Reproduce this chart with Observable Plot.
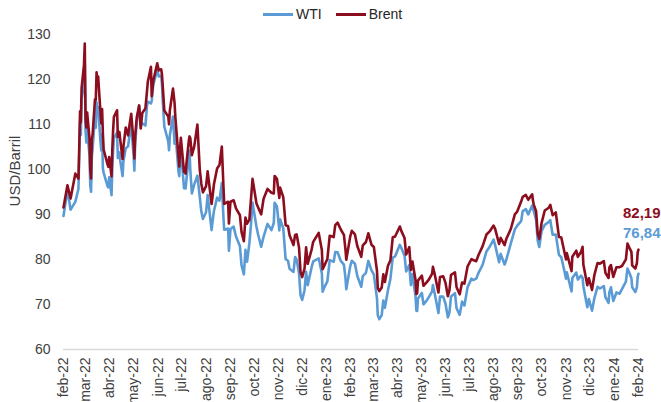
<!DOCTYPE html>
<html><head><meta charset="utf-8">
<script src="https://cdn.jsdelivr.net/npm/d3@7"></script>
<script src="https://cdn.jsdelivr.net/npm/@observablehq/plot@0.6"></script>
<style>
body{margin:0;background:#fff;font-family:"Liberation Sans",Arial,sans-serif;}
#wrap{position:relative;width:661px;height:402px;overflow:hidden;}
#legend{position:absolute;top:6px;left:263px;display:flex;align-items:center;font-size:14px;color:#262626;line-height:16px;}
#legend .sw{display:inline-block;height:3px;}
#ylab{position:absolute;left:14px;top:171px;transform:translate(-50%,-50%) rotate(-90deg);font-size:15px;color:#404040;white-space:nowrap;}
</style></head>
<body><div id="wrap"></div>
<script>
const dates = [
"2022-02-09","2022-02-14","2022-02-18","2022-02-24","2022-02-28",
"2022-03-01","2022-03-02","2022-03-03","2022-03-04","2022-03-07","2022-03-08","2022-03-09","2022-03-10","2022-03-11","2022-03-14","2022-03-15","2022-03-16","2022-03-17","2022-03-18","2022-03-21","2022-03-22","2022-03-23","2022-03-24","2022-03-25","2022-03-28","2022-03-29","2022-03-30","2022-03-31",
"2022-04-01","2022-04-06","2022-04-07","2022-04-08","2022-04-11","2022-04-12","2022-04-13","2022-04-14","2022-04-18","2022-04-19","2022-04-21","2022-04-22","2022-04-25","2022-04-26","2022-04-29",
"2022-05-02","2022-05-04","2022-05-06","2022-05-09","2022-05-10","2022-05-11","2022-05-13","2022-05-16","2022-05-17","2022-05-18","2022-05-20","2022-05-24","2022-05-26","2022-05-27","2022-05-31",
"2022-06-01","2022-06-03","2022-06-08","2022-06-10","2022-06-13","2022-06-14","2022-06-15","2022-06-17","2022-06-22","2022-06-23","2022-06-24","2022-06-28","2022-06-30",
"2022-07-01","2022-07-05","2022-07-06","2022-07-07","2022-07-08","2022-07-12","2022-07-13","2022-07-14","2022-07-15","2022-07-18","2022-07-19","2022-07-20","2022-07-22","2022-07-25","2022-07-29",
"2022-08-01","2022-08-03","2022-08-05","2022-08-09","2022-08-11","2022-08-16","2022-08-17","2022-08-19","2022-08-23","2022-08-26","2022-08-29","2022-08-31",
"2022-09-01","2022-09-06","2022-09-07","2022-09-09","2022-09-13","2022-09-16","2022-09-21","2022-09-23","2022-09-26","2022-09-28","2022-09-30",
"2022-10-03","2022-10-05","2022-10-07","2022-10-12","2022-10-14","2022-10-18","2022-10-21","2022-10-26","2022-10-31",
"2022-11-03","2022-11-04","2022-11-07","2022-11-10","2022-11-11","2022-11-15","2022-11-18","2022-11-21","2022-11-23","2022-11-28","2022-11-30",
"2022-12-02","2022-12-05","2022-12-07","2022-12-09","2022-12-12","2022-12-14","2022-12-16","2022-12-21","2022-12-23","2022-12-30",
"2023-01-03","2023-01-04","2023-01-06","2023-01-10","2023-01-13","2023-01-18","2023-01-20","2023-01-23","2023-01-27","2023-01-31",
"2023-02-02","2023-02-03","2023-02-08","2023-02-10","2023-02-14","2023-02-17","2023-02-22","2023-02-24","2023-02-28",
"2023-03-03","2023-03-07","2023-03-10","2023-03-14","2023-03-15","2023-03-17","2023-03-20","2023-03-22","2023-03-24","2023-03-28","2023-03-31",
"2023-04-03","2023-04-06","2023-04-12","2023-04-14","2023-04-18","2023-04-20","2023-04-24","2023-04-26","2023-04-28",
"2023-05-02","2023-05-03","2023-05-04","2023-05-05","2023-05-10","2023-05-12","2023-05-16","2023-05-19","2023-05-23","2023-05-24","2023-05-26","2023-05-31",
"2023-06-02","2023-06-06","2023-06-09","2023-06-12","2023-06-14","2023-06-16","2023-06-21","2023-06-23","2023-06-27","2023-06-30",
"2023-07-03","2023-07-07","2023-07-12","2023-07-14","2023-07-18","2023-07-21","2023-07-26","2023-07-31",
"2023-08-04","2023-08-09","2023-08-11","2023-08-16","2023-08-18","2023-08-23","2023-08-25","2023-08-31",
"2023-09-05","2023-09-08","2023-09-13","2023-09-15","2023-09-19","2023-09-22","2023-09-27","2023-09-28","2023-09-29",
"2023-10-02","2023-10-04","2023-10-06","2023-10-09","2023-10-13","2023-10-18","2023-10-20","2023-10-23","2023-10-27","2023-10-31",
"2023-11-03","2023-11-07","2023-11-09","2023-11-10","2023-11-16","2023-11-17","2023-11-22","2023-11-24","2023-11-28","2023-11-30",
"2023-12-01","2023-12-06","2023-12-08","2023-12-12","2023-12-15","2023-12-19","2023-12-22","2023-12-27","2023-12-29",
"2024-01-02","2024-01-03","2024-01-05","2024-01-08","2024-01-12","2024-01-16","2024-01-19","2024-01-24","2024-01-26","2024-01-29","2024-01-31",
"2024-02-01","2024-02-05","2024-02-06","2024-02-07","2024-02-08","2024-02-09"
];
const brent = [
91.55,96.48,93.54,99.08,97.97,
104.97,112.93,110.46,118.11,123.21,127.98,111.14,109.33,112.67,106.90,99.91,98.02,106.64,107.93,115.62,115.48,121.60,119.03,120.65,112.48,110.23,113.45,107.91,
104.39,101.07,100.58,102.78,98.48,104.64,108.78,111.70,113.16,107.25,108.33,106.65,102.32,104.99,109.34,
107.58,110.14,112.39,105.94,102.46,107.51,111.55,114.24,111.93,109.11,112.55,113.56,117.40,119.43,122.84,
116.29,119.72,123.58,122.01,122.27,121.17,118.51,113.12,111.74,110.05,113.12,117.98,114.81,
111.63,102.77,100.69,104.65,107.02,99.49,99.57,99.10,101.16,106.27,107.35,106.92,103.20,105.15,110.01,
100.03,96.78,94.92,96.31,99.60,92.34,93.65,96.72,100.22,100.99,105.09,96.49,
92.36,92.83,88.00,92.84,93.17,91.35,89.83,86.15,84.06,89.32,87.96,
88.86,93.37,97.92,92.45,91.63,90.03,93.50,95.69,94.83,
94.67,98.57,97.92,93.67,95.99,93.86,87.62,87.45,85.41,83.19,85.43,
85.57,82.68,77.17,76.10,77.99,82.70,79.04,82.20,83.92,85.91,
82.10,77.84,78.57,80.10,85.28,84.98,87.63,88.19,86.66,85.46,
82.17,79.94,85.09,86.39,85.58,83.00,80.60,83.16,83.89,
85.83,83.29,82.78,77.45,73.69,72.97,73.79,76.69,74.99,78.65,79.77,
84.93,85.12,87.33,86.31,84.77,81.10,82.73,77.69,79.54,
75.32,72.33,72.50,75.30,76.41,74.17,74.91,75.58,76.84,78.36,76.95,72.66,
76.13,76.29,74.79,71.84,73.20,76.61,77.12,73.85,72.26,74.90,
74.65,78.47,80.11,79.87,79.63,81.07,82.92,85.56,
86.24,87.55,86.81,83.45,84.80,83.21,84.48,86.83,
90.04,90.65,92.88,93.93,94.34,93.27,94.50,93.10,92.20,
90.71,85.81,84.58,88.15,90.89,91.50,92.16,89.83,90.48,85.02,
84.89,81.61,80.01,81.43,77.42,80.61,81.96,80.58,81.68,82.83,
78.88,74.30,75.84,73.24,76.55,79.23,79.07,79.65,77.04,
75.89,78.25,78.76,76.12,78.29,78.29,78.56,80.04,83.55,82.40,81.71,
78.70,77.99,78.59,79.21,81.63,82.19
];
const wti = [
89.66,95.46,91.07,92.81,95.72,
103.41,110.60,107.67,115.68,119.40,123.70,108.70,106.02,109.33,103.01,96.44,95.04,102.98,104.70,112.12,109.27,114.93,112.34,113.90,105.96,104.24,107.82,100.28,
99.27,96.23,96.03,98.26,94.29,100.60,104.25,106.95,108.21,102.56,103.79,102.07,98.54,101.70,104.69,
105.17,107.81,109.77,103.09,99.76,105.71,110.49,114.20,112.40,109.59,110.28,109.77,114.09,115.07,114.67,
115.26,118.87,122.11,120.67,120.93,118.93,115.31,109.56,106.19,104.27,107.62,111.76,105.76,
108.43,99.50,98.53,102.73,104.79,95.84,96.30,95.78,97.59,102.60,104.22,99.88,94.70,96.70,98.62,
93.89,90.66,89.01,90.50,94.34,86.53,88.11,90.77,93.74,93.06,97.01,89.55,
86.61,86.88,81.94,86.79,87.31,85.11,82.94,78.74,76.71,82.15,79.49,
83.63,87.76,92.64,87.27,85.61,82.82,85.05,87.91,86.53,
88.17,92.61,91.79,86.47,88.96,86.92,80.08,79.73,77.94,77.24,80.55,
79.98,76.93,72.01,71.02,73.17,77.28,74.29,78.29,79.56,80.26,
76.93,72.84,73.77,75.12,79.86,79.48,81.64,81.62,79.68,78.87,
75.88,73.39,78.47,79.72,79.06,76.34,73.95,76.32,77.05,
79.68,77.58,76.68,71.33,67.61,66.74,67.64,70.90,69.26,73.20,75.67,
80.42,80.70,83.26,82.52,80.86,77.37,78.76,74.30,76.78,
71.66,68.60,68.56,71.34,72.56,70.04,70.86,71.69,72.91,74.34,72.67,68.09,
71.74,71.74,70.17,67.12,68.27,71.78,72.53,69.16,67.70,70.64,
69.79,73.86,75.75,75.42,75.75,77.07,78.78,81.80,
82.82,84.40,83.19,79.38,81.25,78.89,79.83,83.63,
86.69,87.51,88.52,90.77,91.20,90.03,92.00,91.20,90.79,
88.82,84.22,82.79,86.38,87.69,88.32,88.75,85.49,85.54,81.02,
80.51,77.37,75.74,77.17,72.90,75.89,77.10,75.54,76.41,75.96,
74.07,69.38,71.23,68.61,71.43,73.94,73.56,74.11,71.65,
70.38,72.70,73.81,70.77,72.68,72.40,73.41,75.09,78.01,76.78,75.85,
73.82,72.78,73.31,73.86,76.22,76.84
];
const tickLabels = ["feb-22","mar-22","abr-22","may-22","jun-22","jul-22","ago-22","sep-22","oct-22","nov-22","dic-22","ene-23",
"feb-23","mar-23","abr-23","may-23","jun-23","jul-23","ago-23","sep-23","oct-23","nov-23","dic-23","ene-24","feb-24"];
const yTicks = [60,70,80,90,100,110,120,130];
const seriesNames = ["WTI","Brent"];
const colors = {WTI:"#5B9BD5", Brent:"#8C0E1E"};

const parse = d3.utcParse("%Y-%m-%d");
const rows = dates.map((d,i)=>({date:parse(d), brent:brent[i], wti:wti[i]}));
const last = rows[rows.length-1];
const tickDates = tickLabels.map((_,i)=>new Date(Date.UTC(2022,1+i,9)));
const labelMap = new Map(tickDates.map((d,i)=>[+d, tickLabels[i]]));
const fmt = v => v.toFixed(2).replace(".", ",");

const chart = Plot.plot({
  width:661, height:402,
  marginLeft:63, marginRight:23, marginTop:34, marginBottom:53,
  style:{fontFamily:"'Liberation Sans', Arial, sans-serif", fontSize:"14px", color:"#404040", background:"white", overflow:"visible"},
  x:{type:"utc", domain:[rows[0].date, last.date]},
  y:{domain:[60,130]},
  marks:[
    Plot.ruleY([60], {stroke:"#d9d9d9", strokeWidth:1.3}),
    Plot.axisY({ticks:yTicks, tickSize:0, tickPadding:13, label:null, fill:"#404040"}),
    Plot.axisX({ticks:tickDates, tickFormat:d=>labelMap.get(+d), tickRotate:-90, tickSize:0, tickPadding:8, label:null, fill:"#404040"}),
    Plot.line(rows, {x:"date", y:"wti", stroke:colors.WTI, strokeWidth:2.6, strokeLinejoin:"round"}),
    Plot.line(rows, {x:"date", y:"brent", stroke:colors.Brent, strokeWidth:2.6, strokeLinejoin:"round"}),
    Plot.text([last], {x:"date", y:"brent", text:d=>fmt(d.brent), textAnchor:"end", dx:22, dy:-36, fill:colors.Brent, fontWeight:"bold", fontSize:15}),
    Plot.text([last], {x:"date", y:"wti", text:d=>fmt(d.wti), textAnchor:"end", dx:22, dy:-41, fill:colors.WTI, fontWeight:"bold", fontSize:15})
  ]
});

const wrap = document.getElementById("wrap");
wrap.appendChild(chart);
const leg = document.createElement("div");
leg.id = "legend";
leg.innerHTML = seriesNames.map((s,i)=>`<span class="sw" style="width:30px;background:${colors[s]};margin-right:3px;${i?'margin-left:14px;':''}"></span><span>${s}</span>`).join("");
wrap.appendChild(leg);
const yl = document.createElement("div");
yl.id = "ylab";
yl.textContent = "USD/Barril";
wrap.appendChild(yl);
</script>
</body></html>
